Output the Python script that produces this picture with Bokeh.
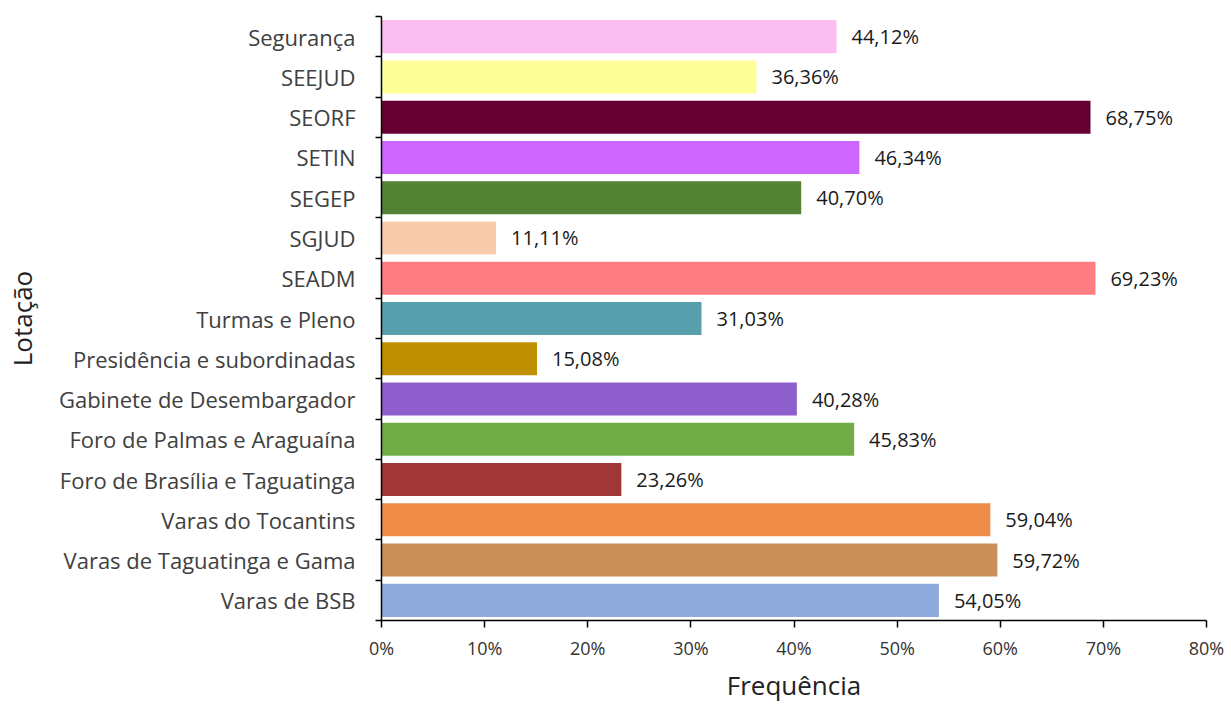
from bokeh.plotting import figure
from bokeh.models import ColumnDataSource, Range1d, FixedTicker, PrintfTickFormatter, LabelSet
from bokeh.core.properties import value
from bokeh.embed import file_html
from bokeh.resources import INLINE

categories = [
    "Segurança", "SEEJUD", "SEORF", "SETIN", "SEGEP", "SGJUD", "SEADM",
    "Turmas e Pleno", "Presidência e subordinadas", "Gabinete de Desembargador",
    "Foro de Palmas e Araguaína", "Foro de Brasília e Taguatinga",
    "Varas do Tocantins", "Varas de Taguatinga e Gama", "Varas de BSB",
]
values = [44.12, 36.36, 68.75, 46.34, 40.70, 11.11, 69.23, 31.03, 15.08, 40.28,
          45.83, 23.26, 59.04, 59.72, 54.05]
colors = ["#FBBEF0", "#FFFF99", "#660033", "#CC66FF", "#548235", "#F8CBAD", "#FF7C80",
          "#589FAE", "#BF9000", "#8E5FCC", "#70AD47", "#A03636", "#EF8C47", "#C98F58",
          "#8EAADC"]
x_ticks = [0, 10, 20, 30, 40, 50, 60, 70, 80]

n = len(categories)
ypos = [n - 1 - i for i in range(n)]
labels = [f"{v:.2f}".replace(".", ",") + "%" for v in values]

src = ColumnDataSource(dict(y=ypos, v=values, c=colors, lab=labels, cat=categories))

FONT = "Open Sans"
p = figure(width=1231, height=706, output_backend="svg", toolbar_location=None,
           x_range=Range1d(0, 80), y_range=Range1d(-0.5, n - 0.5),
           min_border_left=380, min_border_right=25, min_border_top=16, min_border_bottom=86)
p.outline_line_color = None
p.xgrid.grid_line_color = None
p.ygrid.grid_line_color = None

p.hbar(y="y", right="v", left=0, height=0.82, fill_color="c", line_color=None, source=src)

lbl = LabelSet(x="v", y="y", text="lab", source=src, x_offset=15, text_align="left",
               text_baseline="middle", text_font=value(FONT), text_font_size="20px",
               text_color="#1a1a1a")
p.add_layout(lbl)

# x axis
p.xaxis.ticker = FixedTicker(ticks=x_ticks)
p.xaxis.formatter = PrintfTickFormatter(format="%d%%")
p.xaxis.axis_line_color = "black"
p.xaxis.axis_line_width = 1.5
p.xaxis.major_tick_line_color = "black"
p.xaxis.major_tick_line_width = 1.5
p.xaxis.major_tick_out = 7
p.xaxis.major_tick_in = 0
p.xaxis.minor_tick_line_color = None
p.xaxis.major_label_text_font = FONT
p.xaxis.major_label_text_font_size = "18px"
p.xaxis.major_label_text_color = "#333333"
p.xaxis.major_label_standoff = 8
p.xaxis.axis_label = "Frequência"
p.xaxis.axis_label_text_font = FONT
p.xaxis.axis_label_text_font_size = "26px"
p.xaxis.axis_label_text_font_style = "normal"
p.xaxis.axis_label_text_color = "#222222"
p.xaxis.axis_label_standoff = 4

# y axis
boundaries = [i - 0.5 for i in range(n + 1)]
p.yaxis.ticker = FixedTicker(ticks=ypos, minor_ticks=boundaries)
p.yaxis.major_label_overrides = {y: c for y, c in zip(ypos, categories)}
p.yaxis.axis_line_color = "black"
p.yaxis.axis_line_width = 1.5
p.yaxis.major_tick_out = 0
p.yaxis.major_tick_in = 0
p.yaxis.major_tick_line_color = None
p.yaxis.minor_tick_line_color = "black"
p.yaxis.minor_tick_line_width = 1.5
p.yaxis.minor_tick_out = 6
p.yaxis.minor_tick_in = 0
p.yaxis.major_label_text_font = FONT
p.yaxis.major_label_text_font_size = "22px"
p.yaxis.major_label_text_color = "#404040"
p.yaxis.major_label_standoff = 20
p.yaxis.axis_label = "Lotação"
p.yaxis.axis_label_text_font = FONT
p.yaxis.axis_label_text_font_size = "26px"
p.yaxis.axis_label_text_font_style = "normal"
p.yaxis.axis_label_text_color = "#222222"
p.yaxis.axis_label_standoff = 16

open("out.html", "w").write(file_html(p, INLINE))
